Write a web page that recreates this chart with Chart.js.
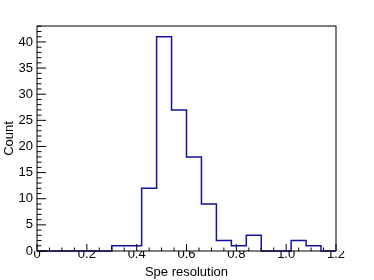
<!DOCTYPE html>
<html>
<head>
<meta charset="utf-8">
<script src="https://cdn.jsdelivr.net/npm/chart.js@4.4.1/dist/chart.umd.min.js"></script>
<style>
  body { margin: 0; background: #fff; }
  canvas { display: block; }
</style>
</head>
<body>
<canvas id="histChart" width="374" height="280"></canvas>
<script>
// bin edges of the histogram (20 bins, 0 .. 1.2)
const binEdges = [0, 0.06, 0.12, 0.18, 0.24, 0.3, 0.36, 0.42, 0.48, 0.54, 0.6,
                  0.66, 0.72, 0.78, 0.84, 0.9, 0.96, 1.02, 1.08, 1.14, 1.2];
const binCounts = [0, 0, 0, 0, 0, 1, 1, 12, 41, 27, 18, 9, 2, 1, 3, 0, 0, 2, 1, 0];

const xTitle = 'Spe resolution';
const yTitle = 'Count';
const xMax = 1.2;
const yMax = 43.05;
const xMajor = 0.2, xMinor = 0.05;
const yMajor = 5, yMinor = 1;

const fontFamily = '"Liberation Sans", Arial, sans-serif';
const fontSize = 13;

// one point per bin edge; 'before' stepping draws bin i flat from edge i to edge i+1
const points = binEdges.map((edge, i) => ({
    x: edge,
    y: i < binCounts.length ? binCounts[i] : binCounts[binCounts.length - 1]
}));

// frame + inside ticks, ROOT style
const frameTicks = {
    id: 'frameTicks',
    afterDraw(chart) {
        const { ctx, chartArea: a, scales: { x, y } } = chart;
        ctx.save();
        ctx.strokeStyle = '#000';
        ctx.lineWidth = 1;
        ctx.beginPath();
        const nx = Math.round(xMax / xMinor);
        const xSub = Math.round(xMajor / xMinor);
        for (let k = 0; k <= nx; k++) {
            const px = x.getPixelForValue(k * xMinor);
            const len = (k % xSub === 0) ? 7 : 3.5;
            ctx.moveTo(px, a.bottom);
            ctx.lineTo(px, a.bottom - len);
        }
        const ny = Math.floor(yMax / yMinor);
        for (let k = 0; k <= ny; k++) {
            const py = y.getPixelForValue(k * yMinor);
            const len = (k % (yMajor / yMinor) === 0) ? 9 : 4.5;
            ctx.moveTo(a.left, py);
            ctx.lineTo(a.left + len, py);
        }
        ctx.stroke();
        ctx.strokeRect(a.left, a.top, a.right - a.left, a.bottom - a.top);
        ctx.restore();
    }
};

new Chart(document.getElementById('histChart').getContext('2d'), {
    type: 'line',
    data: {
        datasets: [{
            data: points,
            stepped: 'before',
            borderColor: '#1212a0',
            borderWidth: 1.5,
            pointRadius: 0,
            fill: false,
            clip: false
        }]
    },
    options: {
        responsive: false,
        animation: false,
        layout: { padding: { top: 26, right: 38, left: 0, bottom: 0 } },
        plugins: { legend: { display: false }, tooltip: { enabled: false } },
        scales: {
            x: {
                type: 'linear',
                min: 0,
                max: xMax,
                grid: { display: false, drawTicks: false },
                border: { display: false },
                ticks: {
                    stepSize: xMajor,
                    padding: -4,
                    color: '#000',
                    maxRotation: 0,
                    font: { family: fontFamily, size: fontSize }
                },
                title: {
                    display: true,
                    text: xTitle,
                    color: '#000',
                    font: { family: fontFamily, size: fontSize },
                    padding: { top: 0, bottom: 0 }
                },
                afterFit: s => { s.height = 29; }
            },
            y: {
                min: 0,
                max: yMax,
                grid: { display: false, drawTicks: false },
                border: { display: false },
                afterBuildTicks: s => {
                    s.ticks = s.ticks.filter(t => Math.abs(t.value / yMajor - Math.round(t.value / yMajor)) < 1e-6);
                },
                ticks: {
                    stepSize: yMajor,
                    padding: 4,
                    color: '#000',
                    font: { family: fontFamily, size: fontSize }
                },
                title: {
                    display: true,
                    text: yTitle,
                    color: '#000',
                    font: { family: fontFamily, size: fontSize },
                    padding: { top: 2, bottom: 2 }
                },
                afterFit: s => { s.width = 37; }
            }
        }
    },
    plugins: [frameTicks]
});
</script>
</body>
</html>
